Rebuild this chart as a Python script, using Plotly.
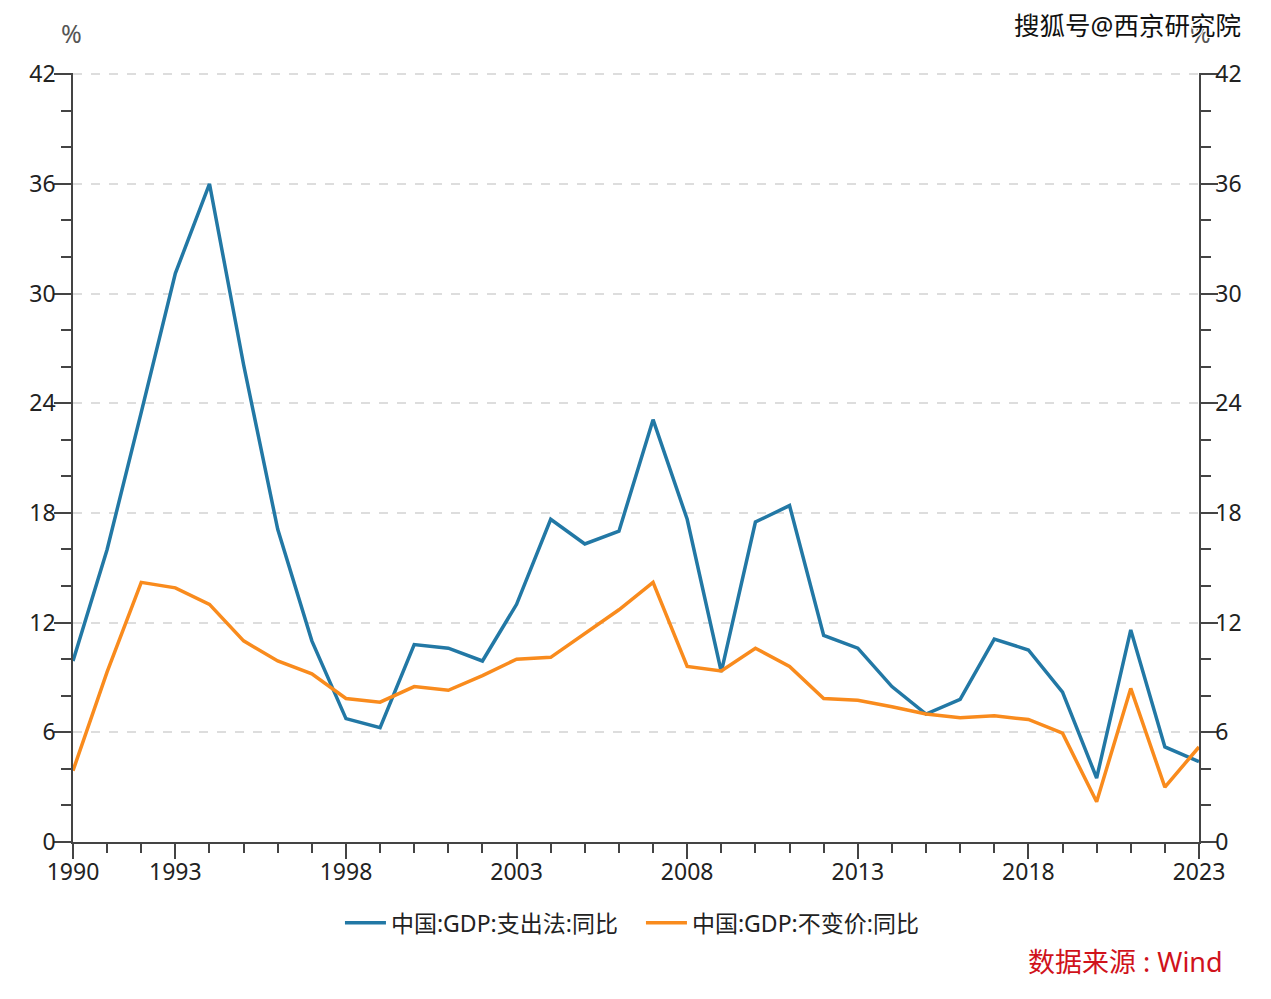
# GDP growth chart, nominal (expenditure approach) vs constant price

import plotly.graph_objects as go

years = list(range(1990, 2024))

gdp_nominal = [9.9, 16.0, 23.5, 31.1, 36.0, 26.1, 17.1, 11.0, 6.75, 6.25, 10.8, 10.6,
               9.9, 13.0, 17.65, 16.3, 17.0, 23.1, 17.65, 9.3, 17.5, 18.4, 11.3, 10.6,
               8.5, 7.0, 7.8, 11.1, 10.5, 8.2, 3.5, 11.6, 5.2, 4.4]
gdp_real = [3.9, 9.3, 14.2, 13.9, 13.0, 11.0, 9.9, 9.2, 7.85, 7.65, 8.5, 8.3,
            9.1, 10.0, 10.1, 11.4, 12.7, 14.2, 9.6, 9.35, 10.6, 9.6, 7.85, 7.75,
            7.4, 7.0, 6.8, 6.9, 6.7, 5.95, 2.2, 8.4, 3.0, 5.2]

x_labels = [1990, 1993, 1998, 2003, 2008, 2013, 2018, 2023]
y_labels = [0, 6, 12, 18, 24, 30, 36, 42]

name_nominal = "中国:GDP:支出法:同比"
name_real = "中国:GDP:不变价:同比"

FONT = "Noto Sans, Noto Sans CJK SC, sans-serif"
TEXT = "#222222"
AXIS = "#444444"
Y_TOP = 42.06  # a hair over 42, plotly drops a gridline sitting on the axis end

fig = go.Figure()
fig.add_trace(go.Scatter(x=years, y=gdp_nominal, name=name_nominal, mode="lines",
                         line=dict(color="#2278a5", width=3.5)))
fig.add_trace(go.Scatter(x=years, y=gdp_real, name=name_real, mode="lines", yaxis="y2",
                         line=dict(color="#f98b1d", width=3.5)))

fig.update_layout(
    width=1255, height=983,
    margin=dict(l=65, r=64, t=65, b=149, autoexpand=False),
    paper_bgcolor="white", plot_bgcolor="white",
    font=dict(family=FONT, size=23, color=TEXT),
    xaxis=dict(range=[1990, 2023], tickvals=x_labels, ticks="outside", ticklen=15, tickwidth=1.5,
               tickcolor=AXIS, showgrid=False, showline=True, linecolor=AXIS, linewidth=1.5,
               ticklabelstandoff=-6,
               minor=dict(tickvals=years, ticks="outside", ticklen=9, tickwidth=1.5, tickcolor=AXIS)),
    yaxis=dict(range=[0, Y_TOP], tickvals=y_labels, ticks="outside", ticklen=17, tickwidth=1.5,
               tickcolor=AXIS, showline=True, linecolor=AXIS, linewidth=1.5, ticklabelstandoff=-6,
               showgrid=True, gridcolor="#dddddd", gridwidth=1.5, griddash="dash", zeroline=False,
               minor=dict(dtick=2, ticks="outside", ticklen=10, tickwidth=1.5, tickcolor=AXIS)),
    yaxis2=dict(range=[0, Y_TOP], tickvals=y_labels, overlaying="y", side="right",
                ticks="outside", ticklen=17, tickwidth=1.5, tickcolor=AXIS, ticklabelstandoff=-7,
                showline=True, linecolor=AXIS, linewidth=1.5, showgrid=False, zeroline=False,
                minor=dict(dtick=2, ticks="outside", ticklen=10, tickwidth=1.5, tickcolor=AXIS)),
    legend=dict(orientation="h", x=0.5044, xanchor="center", y=-0.105, yanchor="middle",
                itemwidth=41, entrywidth=245, font=dict(size=23, color=TEXT)),
)

fig.add_annotation(text="%", xref="paper", yref="paper", x=-0.001, y=1.052, xanchor="center",
                   yanchor="middle", showarrow=False, font=dict(size=25, color="#555555"))
fig.add_annotation(text="%", xref="paper", yref="paper", x=1.001, y=1.052, xanchor="center",
                   yanchor="middle", showarrow=False, font=dict(size=25, color="#555555"))
fig.add_annotation(text="搜狐号@西京研究院", xref="paper", yref="paper", x=1.0393, y=1.0625,
                   xanchor="right", yanchor="middle", showarrow=False,
                   font=dict(size=25.5, color="#111111",
                             shadow="1px 1px 0 #fff, -1px -1px 0 #fff, 1px -1px 0 #fff, -1px 1px 0 #fff"))
fig.add_annotation(text="数据来源 : Wind", xref="paper", yref="paper", x=1.0232, y=-0.155,
                   xanchor="right", yanchor="middle", showarrow=False,
                   font=dict(size=27, color="#d0121b"))

fig.write_html("out.html")
